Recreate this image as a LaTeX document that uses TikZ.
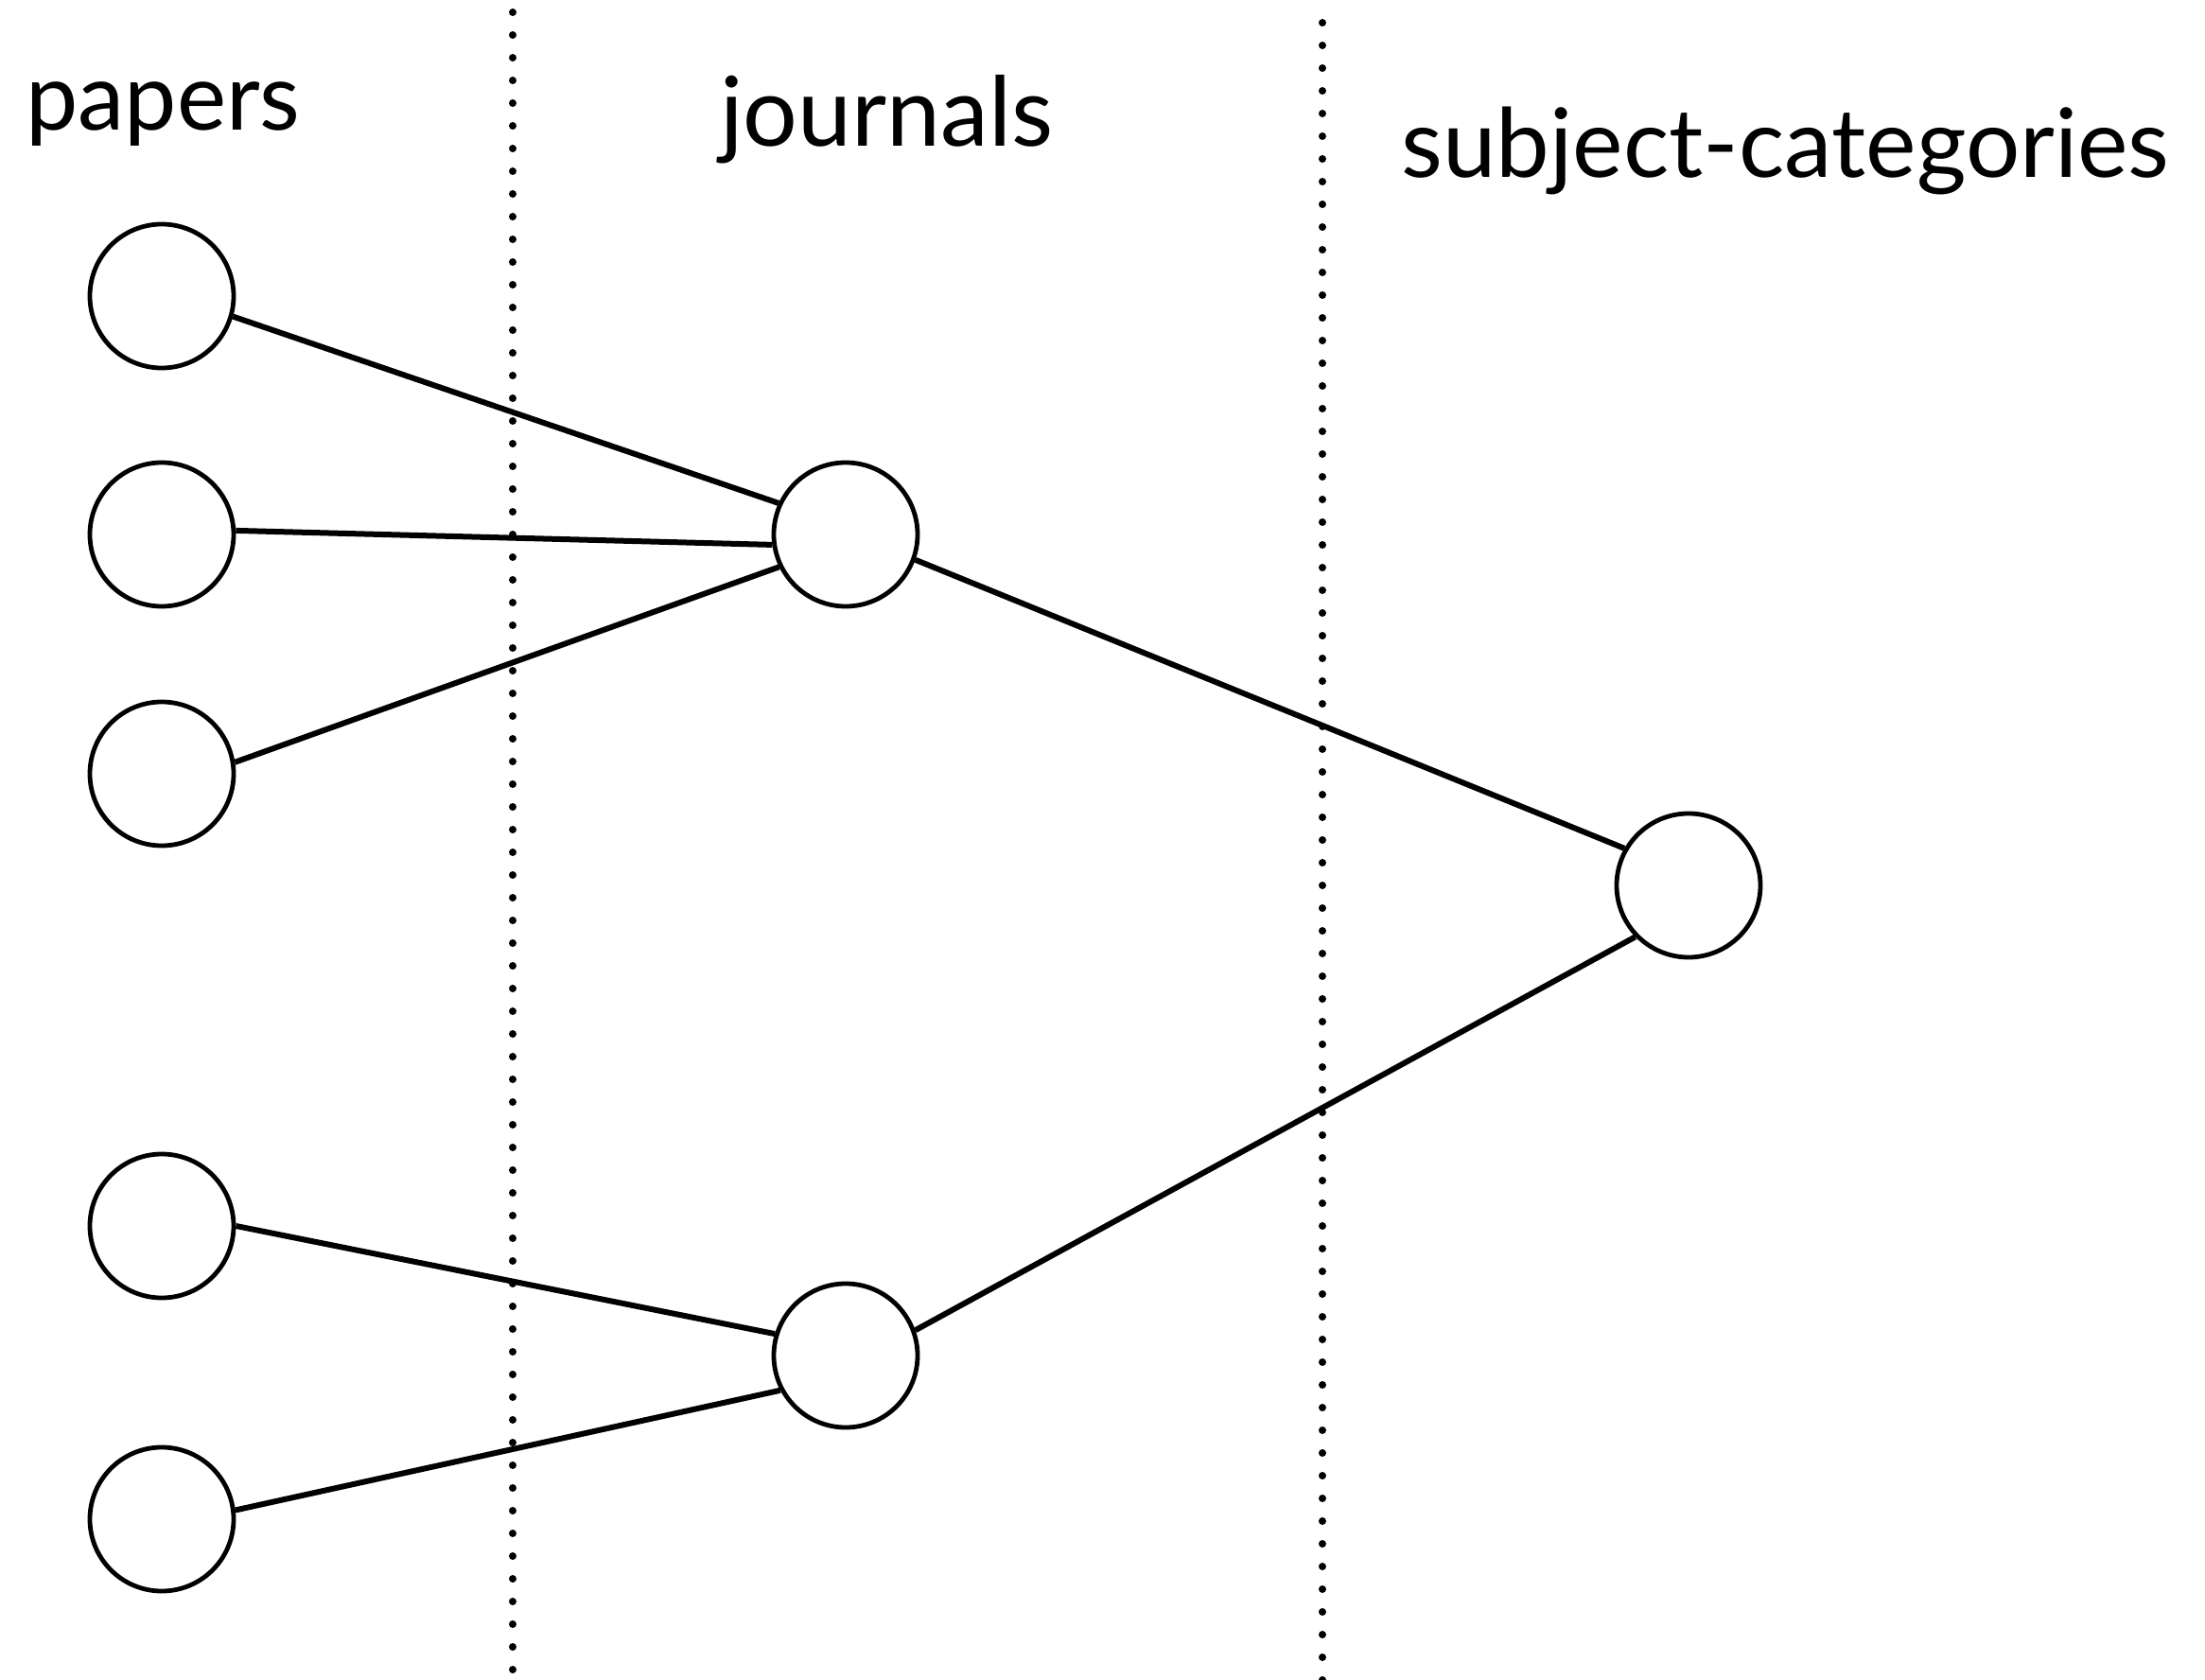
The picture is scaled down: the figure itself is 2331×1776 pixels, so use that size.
\documentclass[tikz,border=0pt]{standalone}
\usepackage{fontspec}
\setmainfont{Lato}
\begin{document}
\begin{tikzpicture}[x=0.5pt,y=-0.5pt,
  vertex/.style={circle,draw=black,line width=2.4pt,minimum size=76pt,inner sep=0pt,fill=white},
  link/.style={line width=3pt},
  divider/.style={line width=4pt,line cap=round,dash pattern=on 0pt off 12pt},
  heading/.style={anchor=base west,inner sep=0pt}]
\useasboundingbox (0,0) rectangle (2331,1776);
\draw[divider] (542,13) -- (542,1776);
\draw[divider] (1398,24) -- (1398,1776);
\node[heading] (lp) at (27,138) {\resizebox{145pt}{!}{papers}};
\node[heading] (lj) at (761,155) {\resizebox{176pt}{!}{journals}};
\node[heading] (ls) at (1481,188) {\resizebox{406pt}{!}{subject-categories}};
\node[vertex] (p1) at (171,313) {};
\node[vertex] (p2) at (171,565) {};
\node[vertex] (p3) at (171,818) {};
\node[vertex] (p4) at (171,1296) {};
\node[vertex] (p5) at (171,1606) {};
\node[vertex] (j1) at (894,565) {};
\node[vertex] (j2) at (894,1433) {};
\node[vertex] (s) at (1785,936) {};
\draw[link] (p1.-16.6) -- (j1.155);
\draw[link] (p2.3.7) -- (j1.188);
\draw[link] (p3.9) -- (j1.206);
\draw[link] (j1.-20) -- (s.150);
\draw[link] (p4.0) -- (j2.163);
\draw[link] (p5.7) -- (j2.208);
\draw[link] (j2.20) -- (s.224.5);
\end{tikzpicture}
\end{document}
